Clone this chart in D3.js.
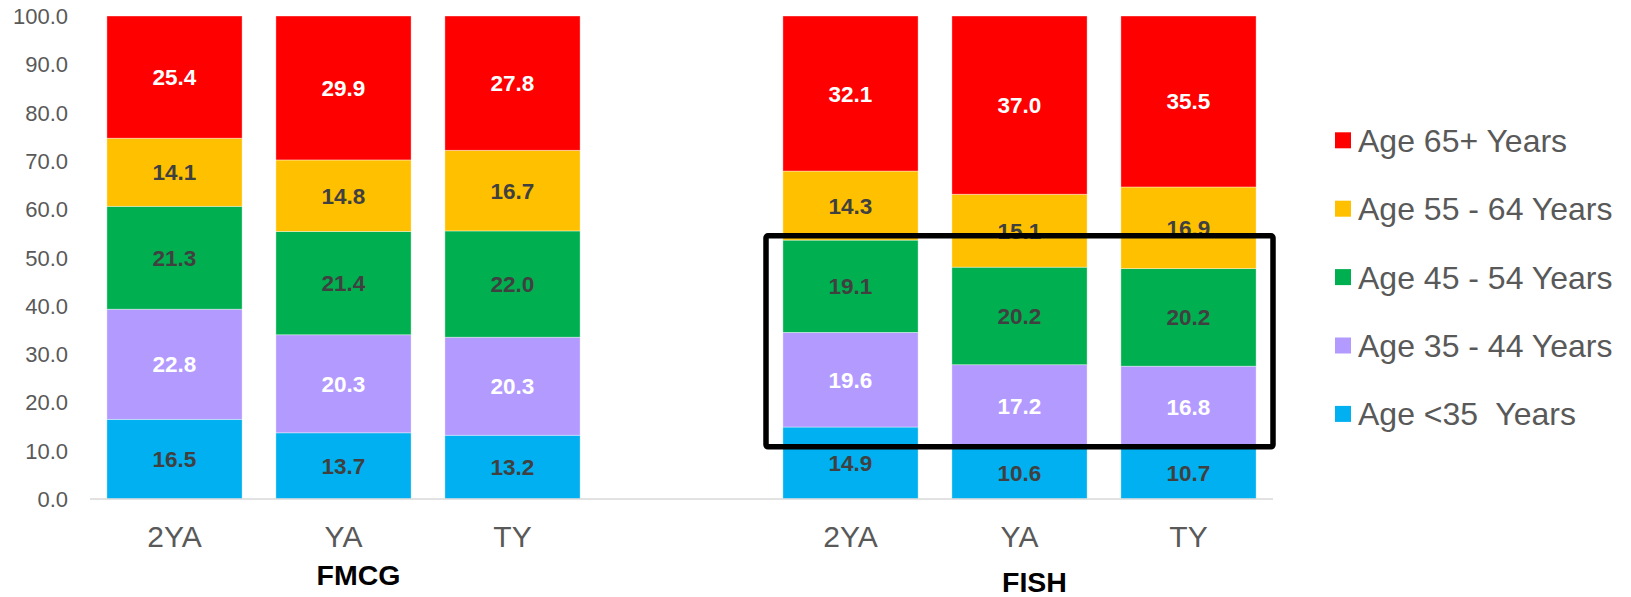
<!DOCTYPE html>
<html>
<head>
<meta charset="utf-8">
<script src="https://cdn.jsdelivr.net/npm/d3@7"></script>
<style>
  html, body { margin: 0; padding: 0; background: #fff; }
  svg { display: block; font-family: "Liberation Sans", Arial, sans-serif; }
</style>
</head>
<body>
<svg id="chart" width="1631" height="597"></svg>
<script>
// Categories: two groups of three periods, with an empty slot between them
const groups = ["FMCG", "FISH"];
const periods = ["2YA", "YA", "TY"];
const slots = ["FMCG|2YA", "FMCG|YA", "FMCG|TY", "gap", "FISH|2YA", "FISH|YA", "FISH|TY"];

// Age bands, bottom to top of each stack
const seriesNames = ["Age <35  Years", "Age 35 - 44 Years", "Age 45 - 54 Years", "Age 55 - 64 Years", "Age 65+ Years"];
const seriesColors = ["#00B0F0", "#B39AFF", "#00B050", "#FFC000", "#FF0000"];
const labelColors = ["#404040", "#FFFFFF", "#404040", "#404040", "#FFFFFF"];

// Share of buyers (%) per slot, one array per age band
const under35 = [16.5, 13.7, 13.2, null, 14.9, 10.6, 10.7];
const age35to44 = [22.8, 20.3, 20.3, null, 19.6, 17.2, 16.8];
const age45to54 = [21.3, 21.4, 22.0, null, 19.1, 20.2, 20.2];
const age55to64 = [14.1, 14.8, 16.7, null, 14.3, 15.1, 16.9];
const age65plus = [25.4, 29.9, 27.8, null, 32.1, 37.0, 35.5];
const seriesValues = [under35, age35to44, age45to54, age55to64, age65plus];

const yTicks = [0, 10, 20, 30, 40, 50, 60, 70, 80, 90, 100];

// Highlight frame around the lower FISH bands (value range)
const highlightLow = 10.8;
const highlightHigh = 54.5;

const svg = d3.select("#chart");

const x = d3.scaleBand()
  .domain(slots)
  .range([90, 1273])
  .paddingInner(0.2)
  .paddingOuter(0.1);

const y = d3.scaleLinear()
  .domain([0, 100])
  .range([499, 16])
  .clamp(true);

// Build stacked rows
const rows = slots.map((s, i) => {
  const r = { slot: s };
  seriesNames.forEach((n, k) => { r[n] = seriesValues[k][i] || 0; });
  return r;
});
const stacked = d3.stack().keys(seriesNames)(rows);

// Y axis tick labels
svg.append("g")
  .selectAll("text")
  .data(yTicks)
  .join("text")
  .attr("x", 68)
  .attr("y", d => y(d) + 8)
  .attr("text-anchor", "end")
  .attr("font-size", 22)
  .attr("fill", "#595959")
  .text(d => d3.format(".1f")(d));

// Bars
const layer = svg.append("g")
  .selectAll("g")
  .data(stacked)
  .join("g")
  .attr("fill", (d, k) => seriesColors[k]);

layer.selectAll("rect")
  .data(d => d.filter(p => p.data.slot !== "gap"))
  .join("rect")
  .attr("x", p => x(p.data.slot))
  .attr("width", x.bandwidth())
  .attr("y", p => y(p[1]))
  .attr("height", p => y(p[0]) - y(p[1]))
  .attr("stroke", "#ffffff")
  .attr("stroke-opacity", 0.5)
  .attr("stroke-width", 0.75);

// Value labels centred in each segment
stacked.forEach((ser, k) => {
  svg.append("g")
    .selectAll("text")
    .data(ser.filter(p => p.data.slot !== "gap"))
    .join("text")
    .attr("x", p => x(p.data.slot) + x.bandwidth() / 2)
    .attr("y", p => (y(p[0]) + y(Math.min(p[1], 100))) / 2 + 8)
    .attr("text-anchor", "middle")
    .attr("font-size", 22.5)
    .attr("font-weight", "bold")
    .attr("fill", labelColors[k])
    .text(p => d3.format(".1f")(p[1] - p[0]));
});

// Baseline
svg.append("line")
  .attr("x1", x.range()[0]).attr("x2", x.range()[1])
  .attr("y1", y(0)).attr("y2", y(0))
  .attr("stroke", "#d9d9d9")
  .attr("stroke-width", 1.5);

// Period labels
svg.append("g")
  .selectAll("text")
  .data(slots.filter(s => s !== "gap"))
  .join("text")
  .attr("x", s => x(s) + x.bandwidth() / 2)
  .attr("y", 547)
  .attr("text-anchor", "middle")
  .attr("font-size", 30)
  .attr("fill", "#595959")
  .text(s => s.split("|")[1]);

// Group labels
const groupBaseline = { FMCG: 585, FISH: 592 };
svg.append("g")
  .selectAll("text")
  .data(groups)
  .join("text")
  .attr("x", g => x(g + "|YA") + x.bandwidth() / 2 + 15)
  .attr("y", g => groupBaseline[g])
  .attr("text-anchor", "middle")
  .attr("font-size", 28.5)
  .attr("font-weight", "bold")
  .attr("fill", "#000000")
  .text(g => g);

// Highlight frame spanning the FISH slots
const step = x.step();
const frameLeft = x("FISH|2YA") - x.paddingOuter() * step;
const frameRight = x("FISH|TY") + x.bandwidth() + x.paddingOuter() * step;
svg.append("rect")
  .attr("x", frameLeft)
  .attr("y", y(highlightHigh))
  .attr("width", frameRight - frameLeft)
  .attr("height", y(highlightLow) - y(highlightHigh))
  .attr("rx", 2)
  .attr("fill", "none")
  .attr("stroke", "#000000")
  .attr("stroke-width", 5.5);

// Legend, top band first
const legendOrder = d3.range(seriesNames.length).reverse();
const legend = svg.append("g")
  .selectAll("g")
  .data(legendOrder)
  .join("g")
  .attr("transform", (k, i) => `translate(1335, ${140.3 + i * 68.4})`);

legend.append("rect")
  .attr("x", 0).attr("y", -8)
  .attr("width", 16).attr("height", 16)
  .attr("fill", k => seriesColors[k]);

legend.append("text")
  .attr("x", 23)
  .attr("y", 11.5)
  .attr("font-size", 32)
  .attr("fill", "#595959")
  .attr("xml:space", "preserve")
  .style("white-space", "pre")
  .text(k => seriesNames[k]);
</script>
</body>
</html>
